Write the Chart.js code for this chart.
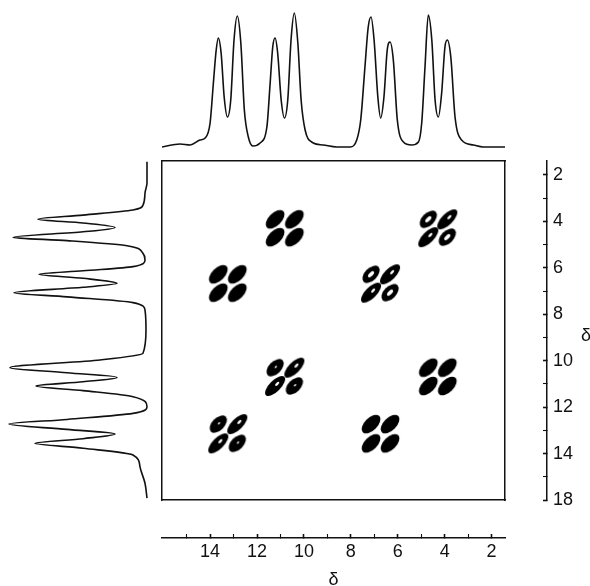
<!DOCTYPE html>
<html>
<head>
<meta charset="utf-8">
<script src="https://cdn.jsdelivr.net/npm/chart.js@4.4.1/dist/chart.umd.min.js"></script>
<style>
  html, body { margin: 0; padding: 0; background: #fff; }
  #wrap { position: relative; width: 590px; height: 586px; overflow: hidden; }
  #wrap canvas, #wrap span { position: absolute; }
  #main { left: 0; top: 0; }
  #topSpec { left: 162px; top: 0; }
  #sideSpec { left: 0; top: 161px; }
  #deltaRight { left: 581px; top: 326px; font: 18px/1 "Liberation Sans", Arial, sans-serif; color: #111; }
</style>
</head>
<body>
<div id="wrap">
  <canvas id="main" width="590" height="586"></canvas>
  <canvas id="topSpec" width="343" height="152"></canvas>
  <canvas id="sideSpec" width="152" height="339"></canvas>
  <span id="deltaRight">δ</span>
</div>
<script>
// 1D spectrum on top (F2), chemical shift and intensity
const topShift = [16.06, 15.28, 14.85, 14.43, 14.21, 14.00, 13.86, 13.74, 13.65, 13.53, 13.40, 13.26, 13.12, 12.98,
  12.84, 12.69, 12.54, 12.37, 12.18, 11.87, 11.58, 11.44, 11.33, 11.23, 11.12, 10.97, 10.83, 10.69, 10.55, 10.41,
  10.26, 10.12, 9.95, 9.67, 9.17, 8.60, 8.03, 7.75, 7.58, 7.40, 7.26, 7.14, 7.01, 6.85, 6.73, 6.59, 6.45, 6.33,
  6.19, 6.02, 5.76, 5.41, 5.12, 4.98, 4.84, 4.70, 4.55, 4.41, 4.27, 4.13, 3.99, 3.89, 3.74, 3.56, 3.28, 2.78, 2.36, 1.43];
const topIntensity = [0, 3, 2, 7, 9, 24, 64, 97, 109, 94, 50, 30, 47, 107,
  131, 104, 37, 10, 1, 4, 20, 64, 100, 109, 94, 47, 29, 47, 107, 134,
  104, 47, 17, 5, 2, 0, 0, 7, 27, 80, 120, 130, 107, 50, 29, 50, 97, 105,
  87, 27, 5, 2, 5, 24, 80, 132, 107, 47, 30, 54, 100, 107, 90, 30, 7, 2, 0, 0];

// 1D spectrum on the left (F1)
const sideShift = [1.43, 2.35, 2.78, 3.30, 3.51, 3.73, 3.91, 4.07, 4.26, 4.45, 4.69, 4.83, 5.05, 5.38, 5.66, 5.95,
  6.13, 6.28, 6.45, 6.67, 6.84, 7.07, 7.25, 7.50, 7.82, 8.68, 9.68, 9.97, 10.30, 10.52, 10.72, 10.91, 11.09, 11.29,
  11.55, 11.98, 12.27, 12.53, 12.73, 12.96, 13.16, 13.36, 13.56, 13.77, 14.06, 14.57, 15.28, 15.92];
const sideIntensity = [0, 0, 2, 4, 14, 64, 109, 64, 32, 64, 134, 80, 20, 4, 2, 14,
  64, 108, 64, 30, 64, 133, 80, 14, 2, 1, 4, 47, 137, 80, 30, 64, 111, 64,
  14, 0, 14, 80, 138, 80, 32, 64, 112, 64, 14, 7, 2, 0];

// cross peaks (off the diagonal), one line per doublet-doublet square
const crossX = [11.23, 10.41, 11.23, 10.41, 13.65, 12.84, 13.65, 12.84, 4.70, 3.89, 4.70, 3.89, 7.14, 6.33, 7.14, 6.33];
const crossY = [3.91, 3.91, 4.68, 4.68, 6.28, 6.28, 7.07, 7.07, 10.30, 10.30, 11.09, 11.09, 12.73, 12.73, 13.56, 13.56];
// diagonal peaks: components lying on the diagonal and the ones beside it
const diagOnX = [3.89, 4.70, 6.33, 7.14, 10.41, 11.23, 12.84, 13.65];
const diagOnY = [3.91, 4.68, 6.28, 7.07, 10.30, 11.09, 12.73, 13.56];
const diagOffX = [4.70, 3.89, 7.14, 6.33, 11.23, 10.41, 13.65, 12.84];
const diagOffY = [3.91, 4.68, 6.28, 7.07, 10.30, 11.09, 12.73, 13.56];

// axis ticks
const xTicks = [15, 14, 13, 12, 11, 10, 9, 8, 7, 6, 5, 4, 3, 2];
const xTickLabels = ['', '14', '', '12', '', '10', '', '8', '', '6', '', '4', '', '2'];
const yTicks = [2, 3, 4, 5, 6, 7, 8, 9, 10, 11, 12, 13, 14, 15, 16];
const yTickLabels = ['2', '', '4', '', '6', '', '8', '', '10', '', '12', '', '14', '', '18'];

const F2_MIN = 1.43, F2_MAX = 16.05;
const F1_MIN = 1.40, F1_MAX = 16.0;

const ink = '#111';
const axisFont = { family: '"Liberation Sans", Arial, sans-serif', size: 18 };

function toPoints(xs, ys) {
  return xs.map((x, i) => ({ x: x, y: ys[i] }));
}

// filled contour blob, tilted along the "/" direction, optional white hole
function blob(a, b, hole) {
  const c = document.createElement('canvas');
  c.width = 36;
  c.height = 36;
  const g = c.getContext('2d');
  g.translate(18, 18);
  g.rotate(-Math.PI / 4);
  g.fillStyle = '#000';
  g.beginPath();
  g.ellipse(0, 0, a, b, 0, 0, Math.PI * 2);
  g.fill();
  if (hole) {
    g.fillStyle = '#fff';
    g.beginPath();
    g.ellipse(hole[2], 0, hole[0], hole[1], 0, 0, Math.PI * 2);
    g.fill();
  }
  return c;
}

const solidBlob = blob(11.5, 6.4);
const longBlob = blob(13, 5.6, [2.6, 1.2, 3]);
const ringBlob = blob(10.5, 6.2, [3.8, 1.9, 0]);
const plainBlob = blob(10.5, 6.2, [1.4, 0.8, 1]);

const edgeAxis = (pos, size) => ({
  type: 'linear', position: pos, weight: 0,
  grid: { display: false }, ticks: { display: false },
  border: { display: true, color: ink, width: 1.5 },
  afterFit: s => { if (pos === 'top' || pos === 'bottom') s.height = size; else s.width = size; }
});

new Chart(document.getElementById('main'), {
  type: 'scatter',
  data: {
    datasets: [
      { data: toPoints(crossX, crossY), pointStyle: solidBlob, pointRadius: 8 },
      { data: toPoints(diagOnX, diagOnY), pointStyle: longBlob, pointRadius: 8 },
      { data: toPoints(diagOffX, diagOffY), pointRadius: 8,
        pointStyle: c => (c.raw && c.raw.y > 9) ? plainBlob : ringBlob }
    ]
  },
  options: {
    responsive: false,
    animation: false,
    events: [],
    layout: { padding: { left: 162, top: 161, right: 0, bottom: 0 } },
    plugins: { legend: { display: false }, tooltip: { enabled: false } },
    scales: {
      x: {
        type: 'linear', position: 'bottom', weight: 1, reverse: true, min: F2_MIN, max: F2_MAX,
        afterBuildTicks: s => { s.ticks = xTicks.map(v => ({ value: v })); },
        afterFit: s => { s.height = 48; },
        grid: { display: true, drawOnChartArea: false, drawTicks: true, tickLength: -4, tickColor: ink,
                tickWidth: c => xTickLabels[c.index] ? 1.6 : 1.1 },
        border: { display: true, color: ink, width: 1.5 },
        ticks: { autoSkip: false, maxRotation: 0, padding: 7, color: ink, font: axisFont,
                 callback: (v, i) => xTickLabels[i] },
        title: { display: true, text: 'δ', color: ink, font: axisFont, padding: { top: 0, bottom: -5 } }
      },
      xGap: edgeAxis('bottom', 38),
      xEdge: edgeAxis('top', 0),
      y: {
        type: 'linear', position: 'right', weight: 1, reverse: true, min: F1_MIN, max: F1_MAX,
        afterBuildTicks: s => { s.ticks = yTicks.map(v => ({ value: v })); },
        afterFit: s => { s.width = 43; },
        grid: { display: true, drawOnChartArea: false, drawTicks: true, tickLength: -4, tickColor: ink,
                tickWidth: c => yTickLabels[c.index] ? 1.6 : 1.1 },
        border: { display: true, color: ink, width: 1.5 },
        ticks: { autoSkip: false, padding: 10, color: ink, font: axisFont,
                 callback: (v, i) => yTickLabels[i] }
      },
      yGap: edgeAxis('right', 42),
      yEdge: edgeAxis('left', 0)
    }
  }
});

const lineStyle = { showLine: true, pointRadius: 0, borderColor: ink, borderWidth: 1.6,
                    cubicInterpolationMode: 'monotone', clip: false };

new Chart(document.getElementById('topSpec'), {
  type: 'scatter',
  data: { datasets: [Object.assign({ data: toPoints(topShift, topIntensity) }, lineStyle)] },
  options: {
    responsive: false, animation: false, events: [],
    layout: { padding: { bottom: 5 } },
    plugins: { legend: { display: false }, tooltip: { enabled: false } },
    scales: {
      x: { type: 'linear', display: false, reverse: true, min: F2_MIN, max: F2_MAX },
      y: { type: 'linear', display: false, min: 0, max: 147 }
    }
  }
});

new Chart(document.getElementById('sideSpec'), {
  type: 'scatter',
  data: { datasets: [Object.assign({ data: toPoints(sideIntensity, sideShift) }, lineStyle)] },
  options: {
    responsive: false, animation: false, events: [],
    indexAxis: 'y',
    layout: { padding: { right: 5 } },
    plugins: { legend: { display: false }, tooltip: { enabled: false } },
    scales: {
      x: { type: 'linear', axis: 'x', display: false, reverse: true, min: 0, max: 147 },
      y: { type: 'linear', axis: 'y', display: false, reverse: true, min: F1_MIN, max: F1_MAX }
    }
  }
});
</script>
</body>
</html>
